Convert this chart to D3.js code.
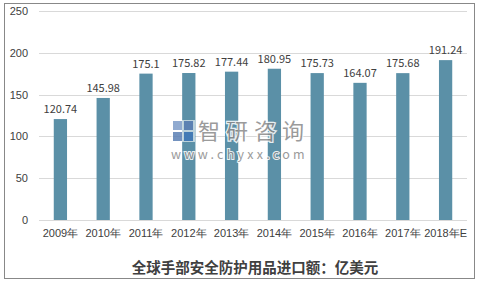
<!DOCTYPE html>
<html>
<head>
<meta charset="utf-8">
<script src="https://cdn.jsdelivr.net/npm/d3@7"></script>
<style>
  body { margin: 0; background: #fff; }
  svg { display: block; font-family: "Noto Sans CJK SC", "Noto Sans", sans-serif; }
</style>
</head>
<body>
<div id="chart"></div>
<script>
const years = ["2009年", "2010年", "2011年", "2012年", "2013年", "2014年", "2015年", "2016年", "2017年", "2018年E"]
const values = [120.74, 145.98, 175.1, 175.82, 177.44, 180.95, 175.73, 164.07, 175.68, 191.24]
const yTicks = [0, 50, 100, 150, 200, 250]
const title = "全球手部安全防护用品进口额：亿美元"

const w = 480
const h = 283
const margin = { top: 11, right: 13, bottom: 63, left: 39 }

const svg = d3.select("#chart").append("svg")
  .attr("width", w)
  .attr("height", h)

// outer frame
svg.append("rect")
  .attr("x", 4.5).attr("y", 3.5)
  .attr("width", 470).attr("height", 275)
  .attr("fill", "none")
  .attr("stroke", "#888")
  .attr("stroke-width", 1)

const x = d3.scaleBand()
  .domain(years)
  .range([margin.left, w - margin.right])
  .paddingInner(0.69)
  .paddingOuter(0.345)

const y = d3.scaleLinear()
  .domain([0, 250])
  .range([h - margin.bottom, margin.top])

// gridlines
svg.append("g")
  .selectAll("line")
  .data(yTicks)
  .enter()
  .append("line")
  .attr("x1", margin.left)
  .attr("x2", w - margin.right)
  .attr("y1", d => Math.round(y(d)) + 0.5)
  .attr("y2", d => Math.round(y(d)) + 0.5)
  .attr("stroke", "#d9d9d9")

// y axis labels
const yAxis = d3.axisLeft(y).tickValues(yTicks).tickSize(0).tickPadding(11)
svg.append("g")
  .attr("transform", `translate(${margin.left},0)`)
  .call(yAxis)
  .call(g => g.select(".domain").remove())
  .selectAll("text")
  .attr("fill", "#404040")
  .style("font-size", "11px")

// bars
svg.append("g")
  .selectAll("rect")
  .data(values)
  .enter()
  .append("rect")
  .attr("x", (d, i) => x(years[i]))
  .attr("y", d => y(d))
  .attr("width", x.bandwidth())
  .attr("height", d => y(0) - y(d))
  .attr("fill", "#5b90a7")

// watermark (sits over the bars with a white halo)
const wm = svg.append("g").attr("opacity", 0.85)
wm.append("rect").attr("x", 171).attr("y", 120).attr("width", 24).attr("height", 22).attr("fill", "#fff").attr("opacity", 0.7)
wm.append("rect").attr("x", 173).attr("y", 121).attr("width", 9).attr("height", 9).attr("fill", "#7d9cc8")
wm.append("rect").attr("x", 184).attr("y", 121).attr("width", 9).attr("height", 9).attr("fill", "#5b7fb5")
wm.append("rect").attr("x", 173).attr("y", 132).attr("width", 9).attr("height", 9).attr("fill", "#5b7fb5")
wm.append("rect").attr("x", 184).attr("y", 132).attr("width", 9).attr("height", 9).attr("fill", "#3f78b8")
wm.append("text")
  .attr("x", 198).attr("y", 139)
  .attr("fill", "#8a8a8a")
  .attr("stroke", "#fff")
  .attr("stroke-width", 2.5)
  .attr("paint-order", "stroke")
  .style("font-size", "22px")
  .style("letter-spacing", "6px")
  .text("智研咨询")
wm.append("text")
  .attr("x", 171).attr("y", 159)
  .attr("fill", "#8a8a8a")
  .attr("stroke", "#fff")
  .attr("stroke-width", 2)
  .attr("paint-order", "stroke")
  .style("font-size", "12.5px")
  .style("letter-spacing", "3.3px")
  .text("www.chyxx.com")

// value labels
svg.append("g")
  .selectAll("text")
  .data(values)
  .enter()
  .append("text")
  .attr("x", (d, i) => x(years[i]) + x.bandwidth() / 2)
  .attr("y", d => y(d) - 6)
  .attr("text-anchor", "middle")
  .attr("fill", "#404040")
  .style("font-size", "11px")
  .text(d => d)

// x axis labels
const xAxis = d3.axisBottom(x).tickSize(0).tickPadding(9)
svg.append("g")
  .attr("transform", `translate(0,${y(0)})`)
  .call(xAxis)
  .call(g => g.select(".domain").remove())
  .selectAll("text")
  .attr("fill", "#404040")
  .style("font-size", "11px")

// title
svg.append("text")
  .attr("x", 255)
  .attr("y", 273)
  .attr("text-anchor", "middle")
  .attr("fill", "#404040")
  .style("font-size", "14.5px")
  .style("font-weight", "bold")
  .text(title)
</script>
</body>
</html>
